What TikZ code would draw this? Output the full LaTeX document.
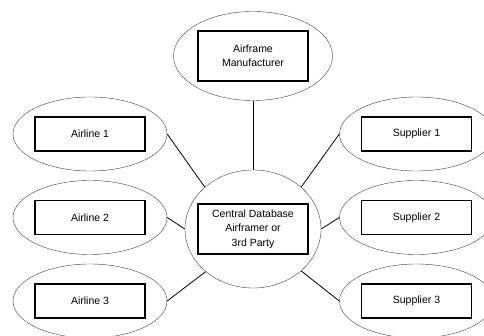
\documentclass[tikz,border=0pt]{standalone}
\usepackage{fontspec}
\setmainfont{Liberation Sans}
\usetikzlibrary{shapes.geometric}
\usetikzlibrary{positioning}

\begin{document}
\begin{tikzpicture}[x=1pt,y=-1pt,node distance=83.5pt,
  oval/.style={draw=black!75,ellipse,inner sep=0pt,minimum width=154pt,minimum height=74pt},
  tag/.style={draw,line width=1.1pt,rectangle,inner sep=0pt,minimum width=110pt,minimum height=34pt,
    font=\fontsize{10.5}{14.5}\selectfont,align=center},
  link/.style={line width=0.8pt}]
  \useasboundingbox (0,0) rectangle (484,336);
  \clip (0,0) rectangle (484,336);
  % centre and manufacturer
  \node [oval,minimum width=136pt,minimum height=118pt] (db) at (253,229){};
  \node [oval,minimum width=159pt,minimum height=89pt] (mf) at (253,56){};
  \node [tag,minimum height=50pt] (dbtag) at (db){Central Database\\Airframer or\\3rd Party};
  \node [tag,minimum height=50pt] (mftag) at (mf){Airframe\\Manufacturer};
  % airlines
  \node [oval] (a1) at (90,134){};
  \node [oval,below of=a1] (a2){};
  \node [oval,below of=a2] (a3){};
  \node [tag] (a1tag) at (a1){Airline 1};
  \node [tag] (a2tag) at (a2){Airline 2};
  \node [tag] (a3tag) at (a3){Airline 3};
  % suppliers
  \node [oval] (s1) at (416.5,134){};
  \node [oval,below of=s1] (s2){};
  \node [oval,below of=s2] (s3){};
  \node [tag] (s1tag) at (s1){Supplier 1};
  \node [tag] (s2tag) at (s2){Supplier 2};
  \node [tag] (s3tag) at (s3){Supplier 3};
  \draw[link](mf.south)--(db.north);
  \draw[link](a1.east)--(db.139);
  \draw[link](a2.east)--(db.180);
  \draw[link](a3.east)--(db.222);
  \draw[link](s1.west)--(db.41);
  \draw[link](s2.west)--(db.0);
  \draw[link](s3.west)--(db.-41);
\end{tikzpicture}
\end{document}
